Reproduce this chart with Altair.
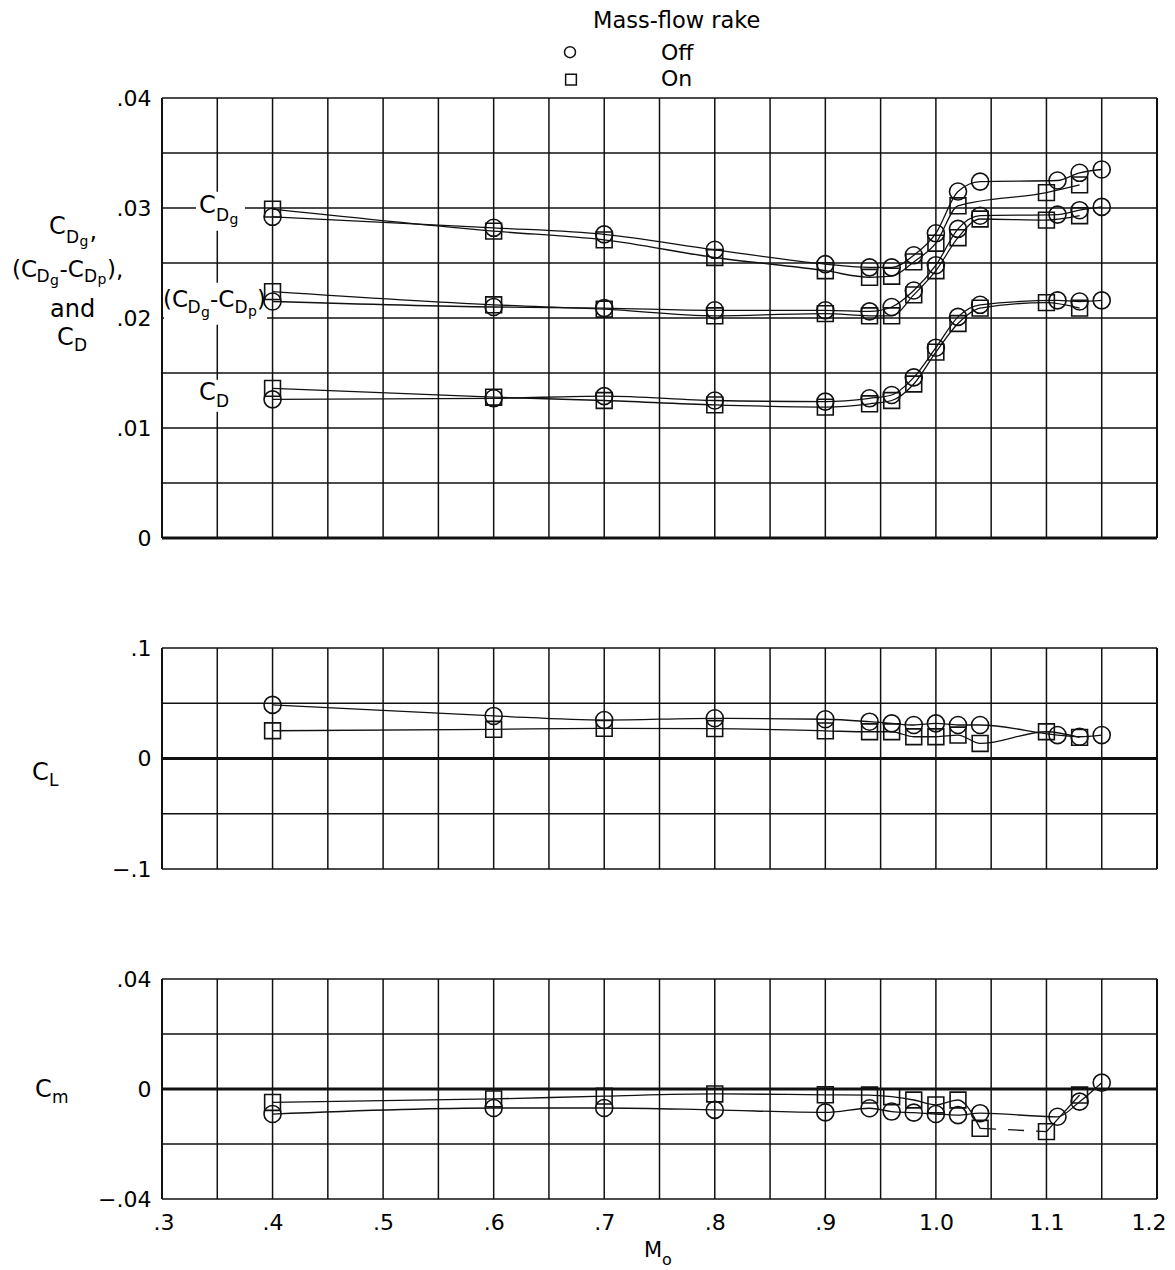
import altair as alt
import pandas as pd

# ---------------- data ----------------
M_OFF = [0.40, 0.60, 0.70, 0.80, 0.90, 0.94, 0.96, 0.98, 1.00, 1.02, 1.04, 1.11, 1.13, 1.15]
M_ON = [0.40, 0.60, 0.70, 0.80, 0.90, 0.94, 0.96, 0.98, 1.00, 1.02, 1.04, 1.10, 1.13]

CDG_OFF = [0.0292, 0.0282, 0.0276, 0.0262, 0.0249, 0.0246, 0.0246, 0.0257, 0.0277, 0.0315, 0.0324, 0.0325, 0.0332, 0.0335]
CDG_ON = [0.0299, 0.0279, 0.0271, 0.0255, 0.0243, 0.0237, 0.0238, 0.0251, 0.0268, 0.0302, None, 0.0314, 0.0321]
CDGP_OFF = [0.0215, 0.0210, 0.0209, 0.0207, 0.0207, 0.0206, 0.0210, 0.0225, 0.0248, 0.0281, 0.0293, 0.0294, 0.0298, 0.0301]
CDGP_ON = [0.0224, 0.0212, 0.0208, 0.0202, 0.0204, 0.0202, 0.0202, 0.0221, 0.0243, 0.0273, 0.0290, 0.0289, 0.0293]
CD_OFF = [0.0126, 0.0127, 0.0129, 0.0125, 0.0124, 0.0127, 0.0130, 0.0146, 0.0173, 0.0201, 0.0212, 0.0216, 0.0215, 0.0216]
CD_ON = [0.0136, 0.0128, 0.0125, 0.0121, 0.0119, 0.0122, 0.0125, 0.0140, 0.0169, 0.0195, 0.0209, 0.0214, 0.0209]

CL_OFF = [0.0485, 0.0385, 0.0348, 0.0364, 0.0355, 0.0333, 0.0318, 0.0303, 0.0318, 0.0303, 0.0303, 0.0212, 0.0197, 0.0212]
CL_ON = [0.0251, 0.0264, 0.0273, 0.0271, 0.0250, 0.0242, 0.0242, 0.0197, 0.0197, 0.0212, 0.0136, 0.0242, 0.0191]

CM_OFF = [-0.0091, -0.0069, -0.0069, -0.0076, -0.0085, -0.0070, -0.0082, -0.0086, -0.0091, -0.0095, -0.0088, -0.0101, -0.0046, 0.0023]
CM_ON = [-0.0049, -0.0036, -0.0026, -0.0018, -0.0021, -0.0022, -0.0028, -0.0040, -0.0058, -0.0040, -0.0143, -0.0155, -0.0022]
CM_ON_DASHED = (1.04, 1.10)   # faired (dashed) part of the "On" Cm curve

RAKE = ["Off", "On"]
X_TICKS = [0.3, 0.4, 0.5, 0.6, 0.7, 0.8, 0.9, 1.0, 1.1, 1.2]
X_GRID = [round(0.30 + 0.05 * i, 2) for i in range(19)]
TOP_TICKS = [0.0, 0.01, 0.02, 0.03, 0.04]
TOP_GRID = [round(0.005 * i, 3) for i in range(9)]
MID_TICKS = [-0.1, 0.0, 0.1]
MID_GRID = [-0.1, -0.05, 0.0, 0.05, 0.1]
BOT_TICKS = [-0.04, 0.0, 0.04]
BOT_GRID = [-0.04, -0.02, 0.0, 0.02, 0.04]

# ---------------- layout / style ----------------
FONT = "DejaVu Sans"
W = 995
H_TOP, H_MID, H_BOT = 440, 221, 220
PLOT_X0 = 162.0
PANELS = {"top": (98.3, H_TOP, 0.0, 0.04), "mid": (648.3, H_MID, -0.1, 0.1), "bot": (979.3, H_BOT, -0.04, 0.04)}
INK = "#111111"


def mx(px):
    return 0.3 + (px - PLOT_X0) / W * 0.9


def vy(panel, py):
    top, h, lo, hi = PANELS[panel]
    return hi - (py - top) / h * (hi - lo)


xscale = alt.Scale(domain=[0.3, 1.2], nice=False, zero=False)


def label_expr(fmt):
    return "datum.value == 0 ? '0' : replace(format(datum.value, '%s'), '0.', '.')" % fmt


def yaxis(ticks, fmt):
    return alt.Axis(values=ticks, labelExpr=label_expr(fmt), grid=False, ticks=False, tickSize=0,
                    domain=False, labelFontSize=22, labelFont=FONT, labelColor="black",
                    labelPadding=11, labelFlush=False, labelOverlap=False, title=None)


XAXIS_BOTTOM = alt.Axis(values=X_TICKS, labelExpr=label_expr(".1f"), grid=False, ticks=False, tickSize=0,
                        domain=False, labelFontSize=22, labelFont=FONT, labelColor="black",
                        labelPadding=13, labelFlush=True, labelFlushOffset=9, labelOverlap=False, title=None)


def series_rows(ms, vals, rake, name, split=None):
    rows = []
    for m, v in zip(ms, vals):
        if v is None:
            continue
        seg = name + rake
        if split is not None:
            seg += "a" if m <= split[0] else "b"
        rows.append({"M": m, "v": v, "rake": rake, "seg": seg})
    return rows


def text_rows(panel, pieces):
    return pd.DataFrame([{"tx": mx(px), "ty": vy(panel, py), "txt": t, "fs": fs} for t, px, py, fs in pieces])


def build_panel(panel, rows, grid, heavy, yax, height, xax, pieces, boxes=None, dashed=None, legend=None):
    _, _, lo, hi = PANELS[panel]
    ysc = alt.Scale(domain=[lo, hi], nice=False, zero=False)

    def X(f):
        return alt.X(f, type="quantitative", scale=xscale, axis=xax)

    def Y(f):
        return alt.Y(f, type="quantitative", scale=ysc, axis=yax)

    layers = []
    layers.append(alt.Chart(pd.DataFrame({"g": X_GRID[1:-1]})).mark_rule(color=INK, strokeWidth=1.5).encode(x=X("g")))
    layers.append(alt.Chart(pd.DataFrame({"g": [X_GRID[0], X_GRID[-1]]})).mark_rule(color=INK, strokeWidth=2.0).encode(x=X("g")))
    thin = [g for g in grid if g not in heavy]
    layers.append(alt.Chart(pd.DataFrame({"g": thin})).mark_rule(color=INK, strokeWidth=1.5).encode(y=Y("g")))
    layers.append(alt.Chart(pd.DataFrame({"g": heavy})).mark_rule(color=INK, strokeWidth=2.8).encode(y=Y("g")))
    if boxes:
        bdf = pd.DataFrame([{"bx": mx(a), "bx2": mx(c), "by": vy(panel, b), "by2": vy(panel, d)} for a, b, c, d in boxes])
        layers.append(alt.Chart(bdf).mark_rect(color="white").encode(x=X("bx"), x2="bx2", y=Y("by"), y2="by2"))
    df = pd.DataFrame(rows)
    layers.append(alt.Chart(df).mark_line(color=INK, strokeWidth=1.3, interpolate="monotone").encode(
        x=X("M"), y=Y("v"), detail="seg:N"))
    if dashed is not None:
        layers.append(alt.Chart(dashed).mark_line(color=INK, strokeWidth=1.3, strokeDash=[16, 12]).encode(
            x=X("M"), y=Y("v")))
    layers.append(alt.Chart(df[df.rake == "Off"]).mark_point(shape="circle", size=290, filled=False, color=INK,
                                                             strokeWidth=1.6, opacity=1).encode(x=X("M"), y=Y("v")))
    layers.append(alt.Chart(df[df.rake == "On"]).mark_point(shape="square", size=250, filled=False, color=INK,
                                                            strokeWidth=1.6, opacity=1).encode(x=X("M"), y=Y("v")))
    if legend is not None:
        layers.append(alt.Chart(legend[legend.rake == "Off"]).mark_point(shape="circle", size=120, filled=False,
                                                                         color=INK, strokeWidth=1.5, opacity=1).encode(
            x=X("lx"), y=Y("ly")))
        layers.append(alt.Chart(legend[legend.rake == "On"]).mark_point(shape="square", size=115, filled=False,
                                                                        color=INK, strokeWidth=1.5, opacity=1).encode(
            x=X("lx"), y=Y("ly")))
    tdf = text_rows(panel, pieces)
    layers.append(alt.Chart(tdf).mark_text(align="left", baseline="alphabetic", font=FONT, color="black").encode(
        x=X("tx"), y=Y("ty"), text="txt:N", size=alt.Size("fs:Q", scale=None, legend=None)))
    return alt.layer(*layers).properties(width=W, height=height)


# ---------------- top panel: drag coefficients ----------------
top_rows = (series_rows(M_OFF, CDG_OFF, "Off", "CDg") + series_rows(M_ON, CDG_ON, "On", "CDg")
            + series_rows(M_OFF, CDGP_OFF, "Off", "CDgp") + series_rows(M_ON, CDGP_ON, "On", "CDgp")
            + series_rows(M_OFF, CD_OFF, "Off", "CD") + series_rows(M_ON, CD_ON, "On", "CD"))

top_text = [
    # y-axis title
    ("C", 49, 234, 24), ("D", 66, 243, 17), ("g", 79.5, 246, 14), (",", 89.5, 239, 24),
    ("(C", 12, 277, 23), ("D", 36.5, 282, 17), ("g", 50, 285, 14), ("-C", 59.5, 277, 23),
    ("D", 84, 282, 17), ("p", 97.5, 284, 14), ("),", 107, 277, 23),
    ("and", 50, 317, 24),
    ("C", 57, 345, 24), ("D", 74, 351, 17),
    # curve labels
    ("C", 199, 213, 24), ("D", 216, 221, 17), ("g", 229.5, 224, 14),
    ("(C", 163, 307, 23), ("D", 187.5, 313, 17), ("g", 201, 317, 14), ("-C", 210, 307, 23),
    ("D", 234.5, 313, 17), ("p", 248, 316, 14), (")", 257, 307, 23),
    ("C", 199, 400, 24), ("D", 216, 407, 17),
    # legend
    ("Mass-flow rake", 593, 28, 22.5), ("Off", 661, 60, 22), ("On", 661, 86, 22),
]
top_boxes = [(196, 192, 245, 231), (164, 283, 267, 325), (197, 380, 233, 412)]
legend_df = pd.DataFrame([{"lx": mx(570), "ly": vy("top", 52.5), "rake": RAKE[0]},
                          {"lx": mx(571), "ly": vy("top", 80), "rake": RAKE[1]}])

top = build_panel("top", top_rows, TOP_GRID, [0.0], yaxis(TOP_TICKS, ".2f"), H_TOP, None,
                  top_text, boxes=top_boxes, legend=legend_df)

# ---------------- middle panel: lift ----------------
mid_rows = series_rows(M_OFF, CL_OFF, "Off", "CL") + series_rows(M_ON, CL_ON, "On", "CL")
mid_text = [("C", 32, 780, 24), ("L", 49, 786, 17)]
mid = build_panel("mid", mid_rows, MID_GRID, [0.0], yaxis(MID_TICKS, ".1f"), H_MID, None, mid_text)

# ---------------- bottom panel: pitching moment ----------------
bot_rows = series_rows(M_OFF, CM_OFF, "Off", "Cm") + series_rows(M_ON, CM_ON, "On", "Cm", split=CM_ON_DASHED)
dash_df = pd.DataFrame([{"M": m, "v": v} for m, v in zip(M_ON, CM_ON) if CM_ON_DASHED[0] <= m <= CM_ON_DASHED[1]])
bot_text = [("C", 35, 1097, 24), ("m", 52, 1103, 17), ("M", 644, 1257, 21), ("o", 662, 1265, 16)]
bot = build_panel("bot", bot_rows, BOT_GRID, [0.0], yaxis(BOT_TICKS, ".2f"), H_BOT, XAXIS_BOTTOM,
                  bot_text, dashed=dash_df)

chart = (alt.vconcat(top, mid, bot, spacing=110, bounds="flush")
         .properties(padding={"left": 3, "right": 0, "top": 1, "bottom": 0}, background="white")
         .configure_view(stroke=None))

chart.save("out.html", embed_options={"renderer": "svg", "actions": False})
